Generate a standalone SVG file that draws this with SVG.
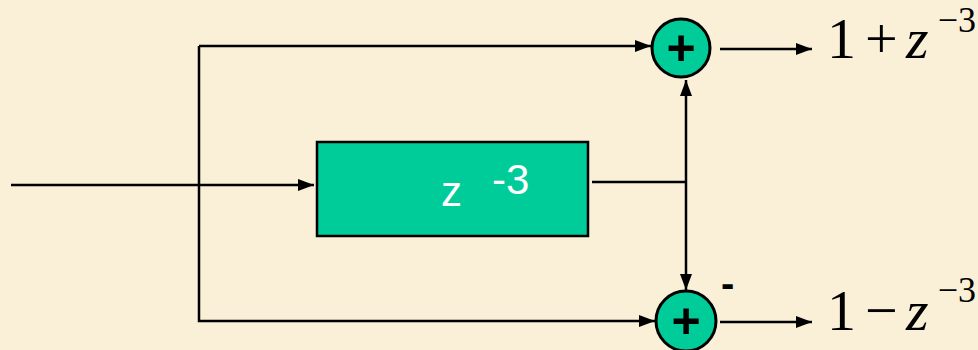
<svg xmlns="http://www.w3.org/2000/svg" width="978" height="350" viewBox="0 0 978 350">
<style>
.ln{stroke:#000;stroke-width:2.5;fill:none}
.sum{fill:#00CC99;stroke:#000;stroke-width:3}
.plus{font-family:"Liberation Sans",Arial,sans-serif;font-weight:bold;font-size:50px;fill:#000;text-anchor:middle}
.math{font-family:"Liberation Serif","Times New Roman",serif;fill:#000}
.box{font-family:"Liberation Sans",Arial,sans-serif;font-size:42px;fill:#fff}
</style>
<defs>
<marker id="ah" viewBox="0 0 16 12" refX="16" refY="6" markerWidth="16" markerHeight="12" markerUnits="userSpaceOnUse" orient="auto">
<path d="M0,0 L16,6 L0,12 Z" fill="#000"/>
</marker>
</defs>
<rect width="978" height="350" fill="#FAEFD7"/>
<g id="connectors">
<line class="ln" x1="11" y1="185" x2="314" y2="185" marker-end="url(#ah)"/>
<polyline class="ln" points="199,46 199,321 655,321" marker-end="url(#ah)"/>
<line class="ln" x1="199" y1="46" x2="651" y2="46" marker-end="url(#ah)"/>
<line class="ln" x1="592" y1="182" x2="686" y2="182"/>
<line class="ln" x1="686" y1="182" x2="686" y2="80" marker-end="url(#ah)"/>
<line class="ln" x1="686" y1="182" x2="686" y2="290" marker-end="url(#ah)"/>
<line class="ln" x1="720" y1="49" x2="812" y2="49" marker-end="url(#ah)"/>
<line class="ln" x1="720" y1="322" x2="812" y2="322" marker-end="url(#ah)"/>
</g>
<g id="delay">
<rect x="317" y="142" width="271" height="94" fill="#00CC99" stroke="#000" stroke-width="2.5"/>
<text class="box" x="441" y="206">z</text>
<text class="box" x="492" y="194">-3</text>
</g>
<g id="sum-top">
<circle class="sum" cx="681" cy="48" r="29"/>
<text class="plus" x="681" y="65">+</text>
</g>
<g id="sum-bottom">
<circle class="sum" cx="686" cy="321" r="30"/>
<text class="plus" x="686" y="338">+</text>
<text x="721" y="297" font-family="Liberation Sans,Arial,sans-serif" font-weight="bold" font-size="40" fill="#000">-</text>
</g>
<g id="out-top">
<text class="math" x="827" y="58" font-size="58">1</text>
<text class="math" x="865" y="58" font-size="58">+</text>
<text class="math" x="906" y="58" font-size="58" font-style="italic">z</text>
<text class="math" x="976" y="32" font-size="36" text-anchor="end">−3</text>
</g>
<g id="out-bottom">
<text class="math" x="827" y="330" font-size="58">1</text>
<text class="math" x="865" y="330" font-size="58">−</text>
<text class="math" x="906" y="330" font-size="58" font-style="italic">z</text>
<text class="math" x="976" y="302" font-size="36" text-anchor="end">−3</text>
</g>
</svg>
